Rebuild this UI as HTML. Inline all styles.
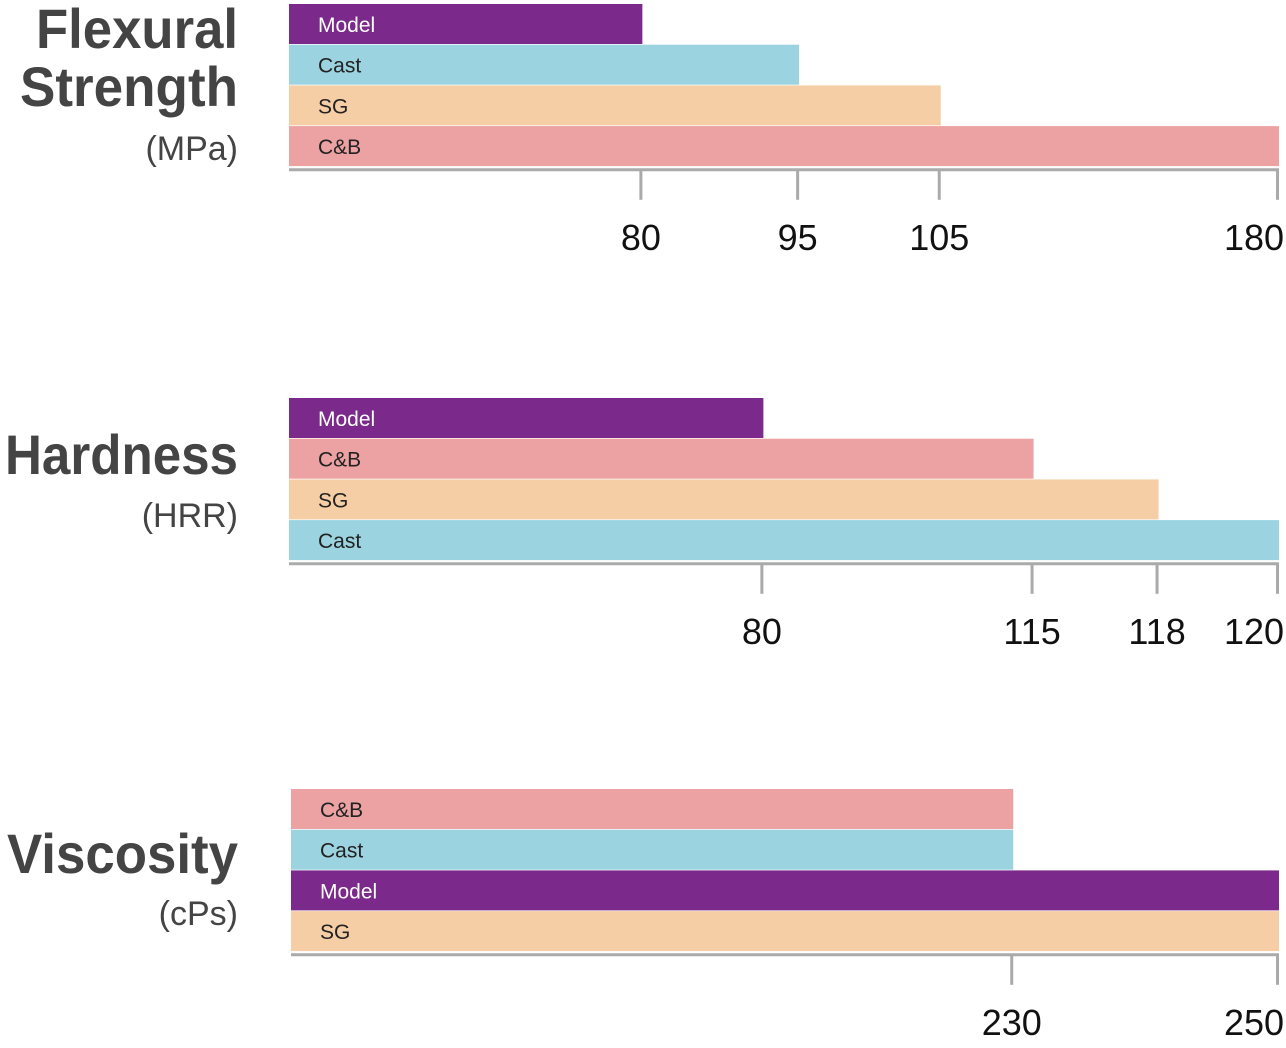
<!DOCTYPE html>
<html><head><meta charset="utf-8"><style>
body{margin:0;background:#fff;}
svg text{font-family:"Liberation Sans",sans-serif;}
</style></head><body>
<svg id="c" width="1286" height="1043"></svg>
<script>
const panelTitles=[["Flexural","Strength"],["Hardness"],["Viscosity"]];
const panelUnits=["(MPa)","(HRR)","(cPs)"];
const flexCats=["Model","Cast","SG","C&B"];
const flexVals=[80,95,105,180];
const hardCats=["Model","C&B","SG","Cast"];
const hardVals=[80,115,118,120];
const viscCats=["C&B","Cast","Model","SG"];
const viscVals=[230,230,250,250];
const colors={"Model":"#7b2a8c","Cast":"#9bd4e0","SG":"#f5cea6","C&B":"#eca2a3"};
const titleLayout=[{ys:[48,106],u:160,w:[202,218]},{ys:[474],u:527,w:[233]},{ys:[873],u:925,w:[231]}];
const panels=[
 {cats:flexCats,vals:flexVals,top:4,x0:289},
 {cats:hardCats,vals:hardVals,top:398,x0:289},
 {cats:viscCats,vals:viscVals,top:789,x0:291}];
const NS="http://www.w3.org/2000/svg",svg=document.getElementById('c');
function mk(t,a,p){const e=document.createElementNS(NS,t);for(const k in a)e.setAttribute(k,a[k]);(p||svg).appendChild(e);return e;}
const X1=1279, ALPHA=0.55;
panels.forEach((p,i)=>{
 const g=mk('g',{});
 
 
 const max=Math.max(...p.vals);
 const uniq=[...new Set(p.vals)].sort((a,b)=>a-b);
 // blended linear / ordinal scale (reference axis is non-linear)
 const x=v=>{
  const lin=v/max;
  const rank=(uniq.filter(u=>u<=v).length)/uniq.length;
  return p.x0+(ALPHA*lin+(1-ALPHA)*rank)*(X1-p.x0);
 };
 const bh=40.7;
 p.cats.forEach((c,j)=>{
  const y=p.top+j*bh;
  const r=mk('rect',{x:p.x0,y:y,width:x(p.vals[j])-p.x0,height:bh-0.7,fill:colors[c]},g);
  
  
  const t=mk('text',{x:p.x0+29,y:y+28,'font-size':21,fill:c==="Model"?"#fff":"#222"},g);
  t.textContent=c;
  
  
 });
 const ay=p.top+4*bh+3;
 const ax=mk('line',{x1:p.x0,x2:X1,y1:ay,y2:ay,stroke:'#aaa','stroke-width':3},g);
 
 
 uniq.forEach(v=>{
  const tx=x(v)-1.5;
  const tk=mk('line',{x1:tx,x2:tx,y1:ay,y2:ay+30,stroke:'#aaa','stroke-width':3},g);
  
  
  const tl=mk('text',{x:Math.min(tx,1284-String(v).length*10),y:ay+80,'font-size':36,'text-anchor':'middle',fill:'#111'},g);
  tl.textContent=v;
  
  
 });
 const L=titleLayout[i];
 panelTitles[i].forEach((l,k)=>{
  const t=mk('text',{x:238,y:L.ys[k],'font-size':56,'font-weight':'bold','text-anchor':'end',fill:'#444',textLength:L.w[k],lengthAdjust:'spacingAndGlyphs'},g);
  t.textContent=l;
  
  
 });
 const u=mk('text',{x:238,y:L.u,'font-size':34,'text-anchor':'end',fill:'#444'},g);
 u.textContent=panelUnits[i];
 
 
});
</script>
</body></html>
